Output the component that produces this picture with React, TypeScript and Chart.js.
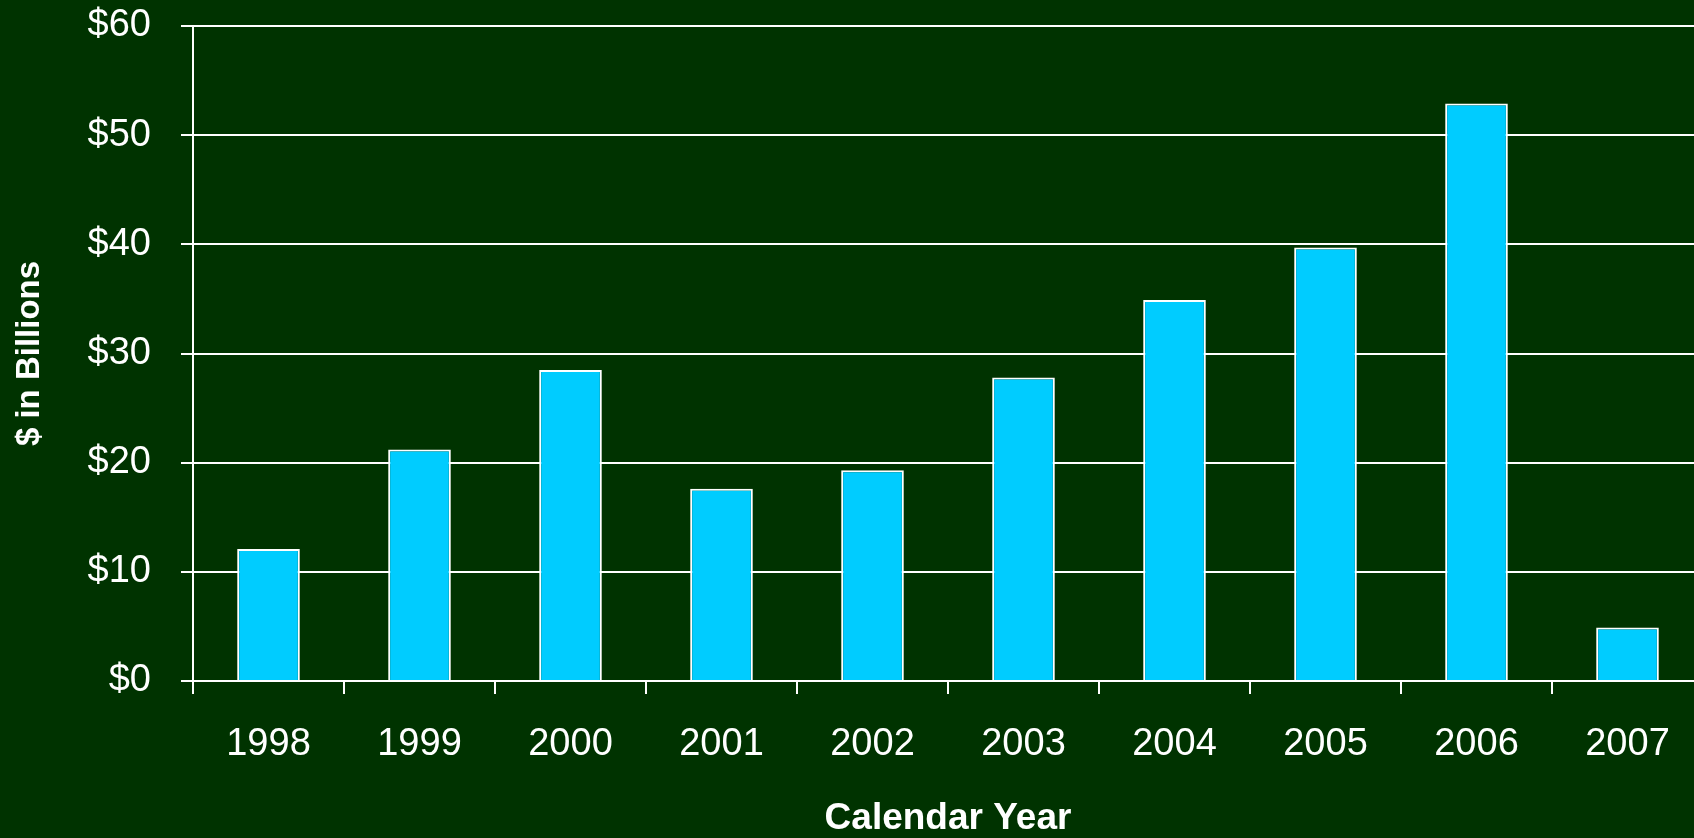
import { useEffect, useRef } from "react";
import { Chart, registerables } from "chart.js";

Chart.register(...registerables);

// Annual totals, $ billions
const years = ["1998", "1999", "2000", "2001", "2002", "2003", "2004", "2005", "2006", "2007"];
const totals = [12.1, 21.2, 28.5, 17.6, 19.3, 27.8, 34.9, 39.7, 52.9, 4.9];
const yTickValues = [0, 10, 20, 30, 40, 50, 60];

const BG = "#003300";
const BAR = "#00CCFF";
const INK = "#ffffff";
const FONT = "'Liberation Sans', Arial, Helvetica, sans-serif";

const CANVAS_W = 1710;
const CANVAS_H = 838;

const backgroundPlugin = {
  id: "solidBackground",
  beforeDraw(chart: any) {
    const { ctx } = chart;
    ctx.save();
    ctx.fillStyle = BG;
    ctx.fillRect(0, 0, chart.width, chart.height);
    ctx.restore();
  },
};

export default function App() {
  const canvasRef = useRef<HTMLCanvasElement>(null);

  useEffect(() => {
    const canvas = canvasRef.current;
    if (!canvas) return;
    const chart = new Chart(canvas, {
      type: "bar",
      data: {
        labels: years,
        datasets: [
          {
            data: totals,
            backgroundColor: BAR,
            borderColor: INK,
            borderWidth: 2,
            borderSkipped: "start",
            barPercentage: 0.83,
            categoryPercentage: 0.5,
          },
        ],
      },
      options: {
        responsive: false,
        animation: false,
        devicePixelRatio: 1,
        layout: { padding: { top: 0, right: 7, bottom: 0, left: 0 } },
        plugins: {
          legend: { display: false },
          tooltip: { enabled: false },
        },
        scales: {
          x: {
            grid: {
              display: true,
              drawOnChartArea: false,
              drawTicks: true,
              tickLength: 13,
              color: INK,
              lineWidth: 2,
              offset: true,
            },
            border: { display: true, color: INK, width: 2 },
            ticks: {
              color: INK,
              font: { family: FONT, size: 38 },
              padding: 28,
              maxRotation: 0,
              autoSkip: false,
            },
            title: {
              display: true,
              text: "Calendar Year",
              color: INK,
              font: { family: FONT, size: 37, weight: "bold", lineHeight: 1.05 },
              padding: 0,
            },
            afterFit: (scale: any) => {
              scale.height = 157;
              scale.paddingLeft = 0;
              scale.paddingRight = 0;
            },
          },
          y: {
            min: 0,
            max: 60,
            afterBuildTicks: (scale: any) => {
              scale.ticks = yTickValues.map((v) => ({ value: v }));
            },
            ticks: {
              color: INK,
              font: { family: FONT, size: 38 },
              padding: 30,
              callback: (v: any) => "$" + v,
            },
            grid: {
              color: INK,
              lineWidth: 2,
              drawTicks: true,
              tickLength: 12,
            },
            border: { display: true, color: INK, width: 2 },
            title: {
              display: true,
              text: "$ in Billions",
              color: INK,
              font: { family: FONT, size: 33, weight: "bold" },
              padding: { top: 10, bottom: 0 },
            },
            afterFit: (scale: any) => {
              scale.width = 193;
              scale.paddingTop = 26;
              scale.paddingBottom = 0;
            },
          },
        },
      },
      plugins: [backgroundPlugin],
    });
    return () => chart.destroy();
  }, []);

  return (
    <div
      style={{
        position: "fixed",
        left: 0,
        top: 0,
        width: 1694,
        height: 838,
        overflow: "hidden",
        background: BG,
      }}
    >
      <canvas
        ref={canvasRef}
        width={CANVAS_W}
        height={CANVAS_H}
        style={{ display: "block", width: CANVAS_W, height: CANVAS_H }}
      />
    </div>
  );
}
